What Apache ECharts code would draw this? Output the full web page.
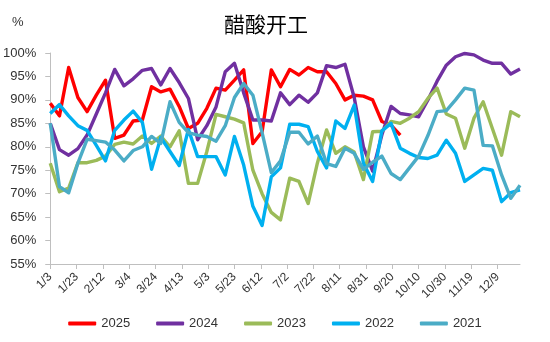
<!DOCTYPE html>
<html>
<head>
<meta charset="utf-8">
<script src="https://cdn.jsdelivr.net/npm/echarts@6/dist/echarts.min.js"></script>
<style>html,body{margin:0;padding:0;background:#fff}#c{width:550px;height:342px}</style>
</head>
<body>
<div id="c"></div>
<script>
// x axis tick labels (every 20 days from 1/3)
const xTickLabels = ['1/3','1/23','2/12','3/4','3/24','4/13','5/3','5/23','6/12','7/2','7/22','8/11','8/31','9/20','10/10','10/30','11/19','12/9'];
const yTickLabels = ['55%','60%','65%','70%','75%','80%','85%','90%','95%','100%'];
const seriesNames = ['2025','2024','2023','2022','2021'];
// weekly values (%), week 1 = 1/3
const v2025 = [89.3,86.6,96.9,90.5,87.5,91.0,94.2,81.8,82.5,85.5,85.7,92.8,91.7,92.3,88.6,83.9,85.0,88.2,92.5,92.1,94.2,96.4,80.7,83.2,96.4,92.8,96.5,95.3,96.9,96.0,96.0,93.5,90.0,91.0,90.8,90.0,85.4,84.6,82.5];
const v2024 = [85.0,79.4,78.2,79.6,82.5,87.0,91.5,96.5,93.0,94.5,96.3,96.7,93.2,96.7,93.7,90.3,81.5,84.5,88.5,96.0,97.8,91.5,85.7,85.7,85.5,91.5,89.0,91.0,89.5,91.5,97.3,96.9,97.6,90.5,80.0,74.8,82.5,88.6,87.1,86.8,86.4,90.0,94.0,97.4,99.2,99.9,99.6,98.5,97.8,97.8,95.5,96.6];
const v2023 = [76.5,70.4,71.2,76.6,76.6,77.1,78.0,80.5,81.0,80.6,82.3,80.7,82.3,80.0,83.4,72.2,72.2,79.0,86.9,86.4,85.9,85.1,75.0,70.0,66.0,64.4,73.3,72.6,67.9,76.5,83.6,78.6,80.0,78.9,73.0,83.2,83.3,85.4,85.0,86.1,87.5,90.3,92.5,87.0,86.1,79.7,86.1,89.6,83.9,78.2,87.5,86.4];
const v2022 = [87.1,89.0,86.6,84.5,83.5,80.3,77.0,83.5,85.7,87.6,85.2,75.2,82.0,79.0,76.0,83.7,77.9,77.9,77.9,74.0,82.2,76.1,67.3,63.2,73.6,75.5,84.8,84.8,84.3,79.0,75.5,85.5,83.9,88.9,76.5,72.6,83.4,85.0,79.7,78.6,77.7,77.5,78.2,81.4,78.6,72.6,74.0,75.4,75.0,68.3,70.2,70.8];
const v2021 = [85.0,71.5,70.2,76.5,81.6,81.3,81.0,79.3,77.0,79.2,80.0,82.2,80.7,89.6,85.2,83.0,82.5,82.2,81.2,84.5,90.5,93.5,91.0,83.0,74.5,77.0,83.1,83.1,80.6,82.3,76.4,75.8,79.7,78.6,75.2,76.7,78.0,74.3,73.0,75.5,78.0,82.4,87.5,87.7,90.0,92.5,92.1,80.3,80.2,74.0,69.0,71.8];
const colors = ['#FF0000','#7030A0','#9BBB59','#00B0F0','#4BACC6'];
const allValues = [v2025,v2024,v2023,v2022,v2021];

const DAYS_PER_WEEK = 7, TICK_DAYS = 20;
const tickValues = xTickLabels.map((_, i) => i * TICK_DAYS);

const chart = echarts.init(document.getElementById('c'), null, {renderer:'canvas'});
const series = seriesNames.map((name, k) => ({
  name, type:'line', symbol:'none', smooth:false,
  lineStyle:{color:colors[k], width:3.4, join:'round'},
  itemStyle:{color:colors[k]},
  data: allValues[k].map((v, i) => [i * DAYS_PER_WEEK, v]),
  animation:false
}));

chart.setOption({
  animation:false,
  title:{text:'醋酸开工', left:261, top:9, textAlign:'center',
    textStyle:{fontFamily:'Noto Sans CJK SC', fontSize:21, fontWeight:'normal', color:'#000'}},
  graphic:[{type:'text', left:12, top:16, style:{text:'%', font:'13px "Liberation Sans"', fill:'#333'}}],
  legend:{bottom:7, left:'center', itemWidth:28, itemHeight:4, itemGap:26, icon:'roundRect',
    textStyle:{fontFamily:'Liberation Sans', fontSize:13, color:'#333'},
    data:seriesNames},
  grid:{left:50, right:30, top:53, bottom:78, containLabel:false},
  xAxis:{type:'value', min:0, max:357, interval:TICK_DAYS,
    axisLine:{show:true, lineStyle:{color:'#BFBFBF', width:1}},
    axisTick:{show:true, length:5, lineStyle:{color:'#BFBFBF'}, customValues:tickValues},
    splitLine:{show:false},
    axisLabel:{rotate:45, margin:11, fontFamily:'Liberation Sans', fontSize:12, color:'#333',
      customValues:tickValues,
      formatter:(val)=>{const i = Math.round(val / TICK_DAYS); return xTickLabels[i] || '';}}
  },
  yAxis:{type:'value', min:55, max:100, interval:5,
    axisLine:{show:true, lineStyle:{color:'#BFBFBF', width:1}},
    axisTick:{show:true, length:5, lineStyle:{color:'#BFBFBF'}},
    splitLine:{show:false},
    axisLabel:{margin:14, fontFamily:'Liberation Sans', fontSize:13, color:'#333',
      formatter:(val)=>yTickLabels[Math.round((val-55)/5)]}
  },
  series
});
</script>
</body>
</html>
